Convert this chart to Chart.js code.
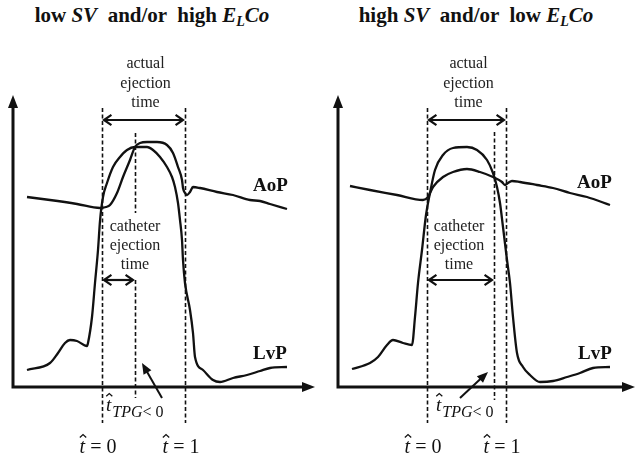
<!DOCTYPE html>
<html>
<head>
<meta charset="utf-8">
<script src="https://cdn.jsdelivr.net/npm/chart.js@4.4.1/dist/chart.umd.min.js"></script>
<style>
  html,body{margin:0;padding:0;background:#fff;}
  body{width:637px;height:457px;position:relative;overflow:hidden;font-family:'Liberation Serif','Times New Roman',serif;}
  .title{position:absolute;top:3px;font-family:'Liberation Serif','Times New Roman',serif;font-weight:bold;font-size:21px;color:#111;white-space:pre;transform:translateX(-50%);}
  .title i{font-style:italic;}
  .title sub{font-size:14px;vertical-align:-4px;line-height:0;}
  canvas{position:absolute;top:0;}
</style>
</head>
<body>
<div class="title" style="left:152px">low <i>SV</i>  and/or  high <i>E<sub>L</sub>Co</i></div>
<div class="title" style="left:476px">high <i>SV</i>  and/or  low <i>E<sub>L</sub>Co</i></div>
<canvas id="c1" width="320" height="457" style="left:0"></canvas>
<canvas id="c2" width="317" height="457" style="left:320px"></canvas>
<script>
// ---- Data: time (x) vs pressure (y), arbitrary units ----
const leftAoP = [[14,95],[37,93.5],[64,91.5],[87,89.5],[93,90],[97,91],[104,97],[110,105],[117,113.5],[122,120],[127,122],[134,122.5],[144,122.5],[154,121],[160,117],[165,110],[169,103.5],[170,99.5],[172,97],[174,96],[177,97.5],[180,100],[187,99.5],[204,97.5],[220,96],[237,93.5],[247,93],[257,91.5],[274,89]];
const leftLvP = [[14,8.5],[37,12],[45,17],[52,22],[57,23.5],[64,23],[74,20.5],[75,22],[79,35],[82,52],[85,68.5],[87,83],[90,95],[94,102],[100,110],[107,115],[114,118.5],[122,120],[134,120],[140,118.5],[147,115],[154,110],[159,105],[162,100],[165,92],[167,83.5],[169,73.5],[170,63.5],[172,52],[177,38.5],[180,27],[182,15],[190,8.5],[200,3.5],[207,2.5],[220,4.5],[234,6],[247,8],[257,9.5],[274,10]];
const rightAoP = [[12,100.5],[32,98.5],[59,96],[85,93.5],[90,95],[95,100],[105,105],[115,107.5],[129,109],[142,107.5],[155,105],[164,102.5],[167,101],[170,102],[174,103],[182,102.5],[199,101],[215,99.5],[232,97],[249,95],[272,91]];
const rightLvP = [[14,9],[32,12],[40,15],[49,21],[55,23.5],[65,22],[74,21],[77,35],[80,52],[84,68.5],[88,86],[92,97],[97,108.5],[105,116],[115,119.5],[129,120],[139,118.5],[149,113.5],[155,107],[159,100],[162,92],[165,80],[169,63.5],[172,52],[175,35],[179,17],[185,10],[192,6],[202,2.5],[215,3],[229,5],[242,7],[255,9.5],[272,10]];

// event times (x): [t̂=0, t̂=1, catheter end]
const leftTimes = [89, 172, 122];
const rightTimes = [89, 168, 156];
// pointer arrow [xFrom, yFrom, xTo, yTo] in data units
const leftPointer = [149, -5.5, 129, 12];
const rightPointer = [122, -5.5, 150, 7.5];
// series labels
const seriesLabels = ['AoP', 'LvP'];
const actualText = ['actual', 'ejection', 'time'];
const catheterText = ['catheter', 'ejection', 'time'];

const SERIF = "'Liberation Serif','Times New Roman',serif";

function arrowHeadOpen(ctx, x, y, ang, len, spread){
  ctx.beginPath();
  ctx.moveTo(x - len*Math.cos(ang - spread), y - len*Math.sin(ang - spread));
  ctx.lineTo(x, y);
  ctx.lineTo(x - len*Math.cos(ang + spread), y - len*Math.sin(ang + spread));
  ctx.stroke();
}
function arrowHeadFilled(ctx, x, y, ang, len, half){
  ctx.beginPath();
  ctx.moveTo(x, y);
  ctx.lineTo(x - len*Math.cos(ang) + half*Math.sin(ang), y - len*Math.sin(ang) - half*Math.cos(ang));
  ctx.lineTo(x - len*Math.cos(ang) - half*Math.sin(ang), y - len*Math.sin(ang) + half*Math.cos(ang));
  ctx.closePath();
  ctx.fill();
}
function hatT(ctx, x, yBase, size){
  // italic t with circumflex
  ctx.font = `italic ${size}px ${SERIF}`;
  ctx.textAlign = 'left';
  ctx.textBaseline = 'alphabetic';
  ctx.fillText('t', x, yBase);
  const w = ctx.measureText('t').width;
  const cx = x + w*0.62, top = yBase - size*0.92;
  ctx.save();
  ctx.lineWidth = 1.3;
  ctx.beginPath();
  ctx.moveTo(cx - size*0.16, top + size*0.14);
  ctx.lineTo(cx, top);
  ctx.lineTo(cx + size*0.16, top + size*0.14);
  ctx.stroke();
  ctx.restore();
  return w;
}

const diagramPlugin = {
  id: 'diagram',
  afterDatasetsDraw(chart, args, o){
    const {ctx, chartArea: a, scales: {x, y}} = chart;
    const [t0, t1, tc] = o.times;
    const X = v => x.getPixelForValue(v), Y = v => y.getPixelForValue(v);
    ctx.save();
    ctx.strokeStyle = '#111'; ctx.fillStyle = '#111';
    // axes
    ctx.lineWidth = 3;
    ctx.beginPath();
    ctx.moveTo(a.left, a.top + 10); ctx.lineTo(a.left, a.bottom); ctx.lineTo(a.right - 10, a.bottom);
    ctx.stroke();
    arrowHeadFilled(ctx, a.left, a.top, -Math.PI/2, 13, 5);
    arrowHeadFilled(ctx, a.right, a.bottom, 0, 13, 5);
    // dashed verticals
    ctx.lineWidth = 1.6;
    ctx.setLineDash([4, 2.5]);
    const vline = (xv, y1, y2) => { ctx.beginPath(); ctx.moveTo(Math.round(X(xv))+0.5, Y(y1)); ctx.lineTo(Math.round(X(xv))+0.5, Y(y2)); ctx.stroke(); };
    vline(t0, 139.5, -18);
    vline(t1, 139.5, -18);
    o.midSegments.forEach(s => vline(tc, s[0], s[1]));
    ctx.setLineDash([]);
    // double arrows
    ctx.lineWidth = 2.2;
    const dbl = (xa, xb, yv) => {
      const py = Y(yv), pa = X(xa)+2, pb = X(xb)-2;
      ctx.beginPath(); ctx.moveTo(pa, py); ctx.lineTo(pb, py); ctx.stroke();
      arrowHeadOpen(ctx, pa, py, Math.PI, 9, 0.6);
      arrowHeadOpen(ctx, pb, py, 0, 9, 0.6);
    };
    dbl(t0, t1, 133.5);
    dbl(t0, tc, 53.5);
    // pointer arrow
    const p = o.pointer;
    const fx = X(p[0]), fy = Y(p[1]), tx = X(p[2]), ty = Y(p[3]);
    const ang = Math.atan2(ty - fy, tx - fx);
    ctx.lineWidth = 2;
    ctx.beginPath(); ctx.moveTo(fx, fy); ctx.lineTo(tx - 6*Math.cos(ang), ty - 6*Math.sin(ang)); ctx.stroke();
    arrowHeadFilled(ctx, tx, ty, ang, 11, 4.5);
    // texts
    ctx.textAlign = 'center'; ctx.textBaseline = 'middle';
    ctx.font = `16px ${SERIF}`;
    ctx.fillStyle = '#222';
    const ax = (X(t0) + X(t1))/2 + 2;
    actualText.forEach((s, i) => ctx.fillText(s, ax, 64 + i*19.5));
    const cx = X(o.cathX);
    catheterText.forEach((s, i) => ctx.fillText(s, cx, 227 + i*19));
    ctx.fillStyle = '#111';
    ctx.font = `bold 19px ${SERIF}`;
    ctx.textAlign = 'left';
    ctx.fillText(seriesLabels[0], o.aopLabel[0], o.aopLabel[1]);
    ctx.fillText(seriesLabels[1], o.lvpLabel[0], o.lvpLabel[1]);
    // t̂_TPG<0
    ctx.textBaseline = 'alphabetic';
    let lx = o.tpgX;
    const w = hatT(ctx, lx, 411, 19);
    lx += w + 1;
    ctx.font = `italic 16px ${SERIF}`;
    ctx.fillText('TPG', lx, 417);
    lx += ctx.measureText('TPG').width;
    ctx.font = `16px ${SERIF}`;
    ctx.fillText('< 0', lx, 417);
    // t̂ = 0, t̂ = 1
    [[t0, '= 0'], [t1, '= 1']].forEach(([tv, s]) => {
      ctx.font = `20px ${SERIF}`;
      const sw = ctx.measureText(' ' + s).width;
      ctx.font = `italic 20px ${SERIF}`;
      const tw = ctx.measureText('t').width;
      const start = X(tv) - 4 - (sw + tw)/2;
      hatT(ctx, start, 453, 20);
      ctx.font = `20px ${SERIF}`;
      ctx.fillText(' ' + s, start + tw, 453);
    });
    ctx.restore();
  }
};

function makeChart(id, aop, lvp, cfg){
  return new Chart(document.getElementById(id), {
    type: 'scatter',
    data: {
      datasets: [
        {label: 'AoP', data: aop.map(p => ({x: p[0], y: p[1]}))},
        {label: 'LvP', data: lvp.map(p => ({x: p[0], y: p[1]}))}
      ].map(d => Object.assign(d, {showLine: true, pointRadius: 0, borderColor: '#111', borderWidth: 2.3, cubicInterpolationMode: 'monotone', clip: false}))
    },
    options: {
      responsive: false, animation: false, devicePixelRatio: 1,
      layout: {padding: cfg.padding},
      scales: {
        x: {type: 'linear', min: 0, max: cfg.xmax, display: false},
        y: {type: 'linear', min: 0, max: 146, display: false}
      },
      plugins: {legend: {display: false}, tooltip: {enabled: false}, diagram: cfg.diagram}
    },
    plugins: [diagramPlugin]
  });
}

makeChart('c1', leftAoP, leftLvP, {
  padding: {left: 13, top: 95, right: 5, bottom: 70}, xmax: 302,
  diagram: {times: leftTimes, pointer: leftPointer, midSegments: [[127, 87], [53.5, -5.5]], cathX: 122,
            aopLabel: [253, 186], lvpLabel: [253, 354], tpgX: 106}
});
makeChart('c2', rightAoP, rightLvP, {
  padding: {left: 18, top: 95, right: 2, bottom: 70}, xmax: 297,
  diagram: {times: rightTimes, pointer: rightPointer, midSegments: [[127.5, -6.5]], cathX: 121,
            aopLabel: [257, 183], lvpLabel: [258, 354], tpgX: 116}
});
</script>
</body>
</html>
